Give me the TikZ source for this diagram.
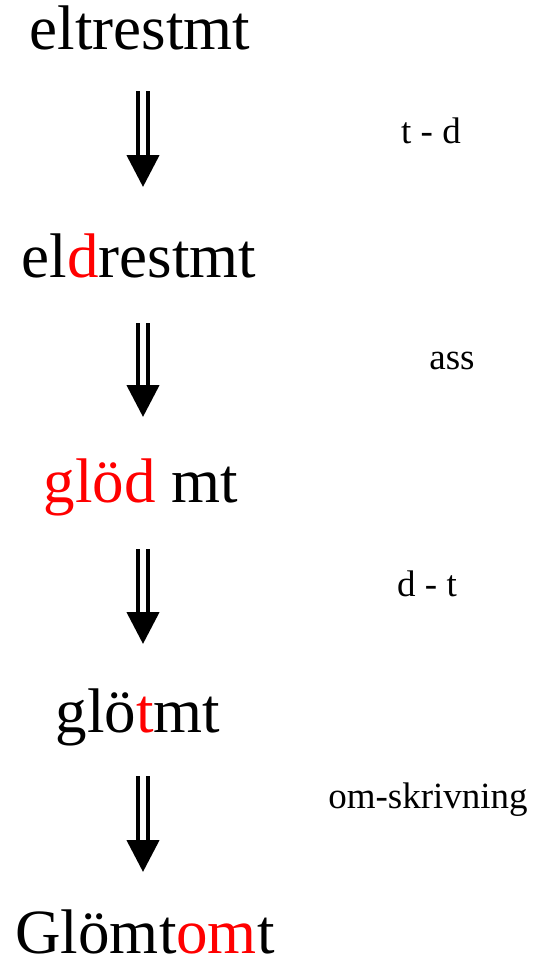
\documentclass[tikz,border=0pt]{standalone}
\usepackage{fontspec}
\setmainfont{Liberation Serif}
\usepackage{xcolor}
\definecolor{chred}{RGB}{255,0,0}
\usepackage{tikz}
\usetikzlibrary{arrows.meta}

\newcommand{\chg}[1]{\textcolor{chred}{#1}}

\begin{document}
\begin{tikzpicture}[x=1pt,y=1pt,
  word/.style={anchor=base,inner sep=0pt,font=\fontsize{63}{70}\selectfont},
  rule/.style={anchor=base,inner sep=0pt,font=\fontsize{37}{42}\selectfont},
  dblarrow/.style={double,double distance=5.5pt,line width=4.5pt,-{Triangle[width=32pt,length=32pt]}}]
  \useasboundingbox (0,0) rectangle (534,-959);
  \node[word] (w1) at (140,-49) {eltrestmt};
  \node[word] (w2) at (139,-277) {el\chg{d}restmt};
  \node[word] (w3) at (141,-502) {\chg{glöd} mt};
  \node[word] (w4) at (138,-732) {glö\chg{t}mt};
  \node[word] (w5) at (145,-953) {Glömt\chg{om}t};
  \node[rule] (r1) at (431,-143) {t - d};
  \node[rule] (r2) at (452,-369) {ass};
  \node[rule] (r3) at (427,-596) {d - t};
  \node[rule] (r4) at (428,-808) {om-skrivning};
  \coordinate (a1s) at (143,-91);
  \coordinate (a1e) at (143,-187);
  \coordinate (a2s) at (143,-323);
  \coordinate (a2e) at (143,-417);
  \coordinate (a3s) at (143,-549);
  \coordinate (a3e) at (143,-644);
  \coordinate (a4s) at (143,-776);
  \coordinate (a4e) at (143,-872);
  \draw[dblarrow] (a1s)--(a1e);
  \draw[dblarrow] (a2s)--(a2e);
  \draw[dblarrow] (a3s)--(a3e);
  \draw[dblarrow] (a4s)--(a4e);
\end{tikzpicture}
\end{document}
